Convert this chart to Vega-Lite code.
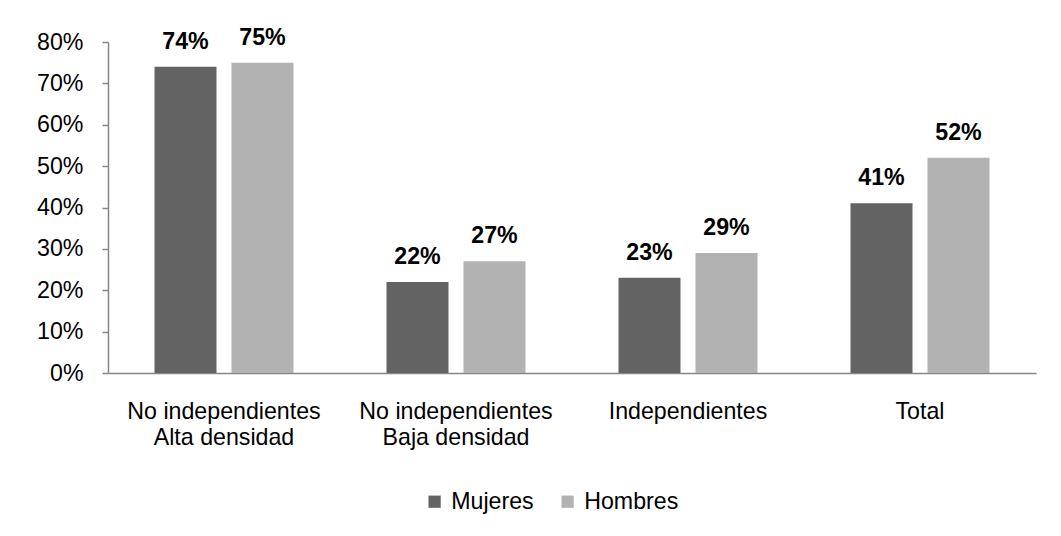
{
  "$schema": "https://vega.github.io/schema/vega-lite/v6.json",
  "autosize": "none",
  "width": 928,
  "height": 331,
  "padding": {"left": 108, "top": 42, "right": 25, "bottom": 163},
  "background": "white",
  "config": {
    "view": {"stroke": null},
    "font": "Liberation Sans"
  },
  "data": {
    "values": [
      {"cat": "No independientes|Alta densidad", "sexo": "Mujeres", "valor": 0.74},
      {"cat": "No independientes|Alta densidad", "sexo": "Hombres", "valor": 0.75},
      {"cat": "No independientes|Baja densidad", "sexo": "Mujeres", "valor": 0.22},
      {"cat": "No independientes|Baja densidad", "sexo": "Hombres", "valor": 0.27},
      {"cat": "Independientes", "sexo": "Mujeres", "valor": 0.23},
      {"cat": "Independientes", "sexo": "Hombres", "valor": 0.29},
      {"cat": "Total", "sexo": "Mujeres", "valor": 0.41},
      {"cat": "Total", "sexo": "Hombres", "valor": 0.52}
    ]
  },
  "encoding": {
    "x": {
      "field": "cat", "type": "nominal", "sort": null,
      "scale": {"paddingInner": 0, "paddingOuter": 0},
      "axis": {
        "title": null, "labelAngle": 0, "ticks": false,
        "labelExpr": "split(datum.label, '|')", "labelLimit": 0,
        "labelFontSize": 23.2, "labelColor": "#000000", "labelLineHeight": 26,
        "labelPadding": 27, "domainColor": "#868686", "domainWidth": 1.5,
        "labelFont": "Liberation Sans"
      }
    },
    "xOffset": {
      "field": "sexo", "type": "nominal", "sort": ["Mujeres", "Hombres"],
      "scale": {"paddingInner": 0.195, "paddingOuter": 0.604}
    },
    "y": {
      "field": "valor", "type": "quantitative",
      "scale": {"domain": [0, 0.8], "nice": false},
      "axis": {
        "title": null, "format": ".0%", "values": [0, 0.1, 0.2, 0.3, 0.4, 0.5, 0.6, 0.7, 0.8],
        "labelOverlap": false, "labelBound": false,
        "grid": false, "labelFontSize": 23.2, "labelColor": "#000000",
        "labelPadding": 19, "tickSize": 6, "tickColor": "#868686", "tickWidth": 1.5,
        "domainColor": "#868686", "domainWidth": 1.5, "labelFont": "Liberation Sans"
      }
    }
  },
  "layer": [
    {
      "mark": {"type": "bar"},
      "encoding": {
        "color": {
          "field": "sexo", "type": "nominal", "sort": ["Mujeres", "Hombres"],
          "scale": {"domain": ["Mujeres", "Hombres"], "range": ["#636363", "#b2b2b2"]},
          "legend": {
            "title": null, "orient": "none", "direction": "horizontal",
            "legendX": 315, "legendY": 448,
            "symbolType": "square", "symbolSize": 150, "symbolStrokeWidth": 0,
            "labelFontSize": 23.2, "labelColor": "#000000", "labelOffset": 5,
            "columnPadding": 22, "labelFont": "Liberation Sans"
          }
        }
      }
    },
    {
      "mark": {"type": "text", "fontWeight": "bold", "fontSize": 23.2, "baseline": "alphabetic", "dy": -18, "color": "#000000", "font": "Liberation Sans"},
      "encoding": {
        "text": {"field": "valor", "type": "quantitative", "format": ".0%"}
      }
    }
  ]
}
